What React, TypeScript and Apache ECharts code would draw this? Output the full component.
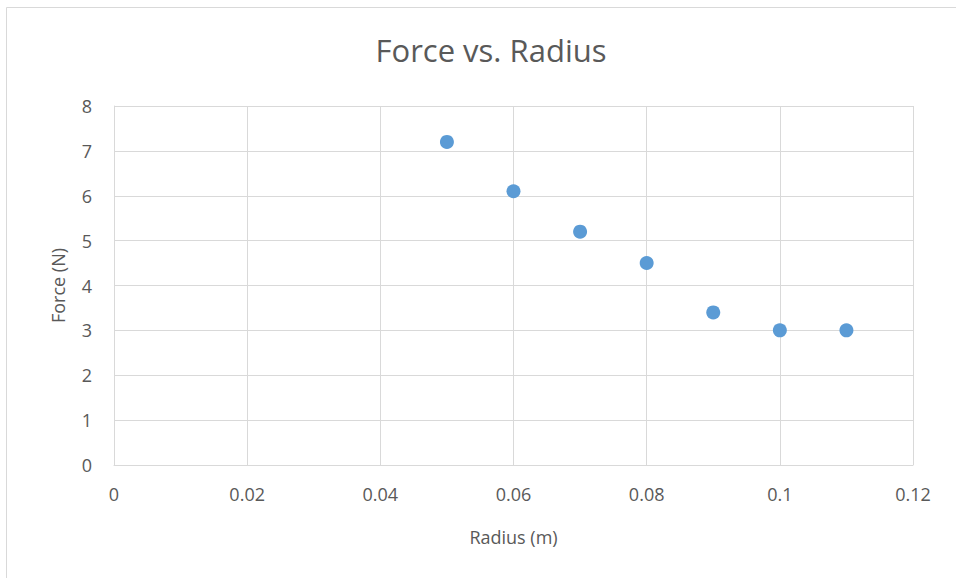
import React, { useEffect, useRef } from "react";
import * as echarts from "echarts";

const radius = [0.05, 0.06, 0.07, 0.08, 0.09, 0.1, 0.11];
const force = [7.2, 6.1, 5.2, 4.5, 3.4, 3.0, 3.0];
const titleText = "Force vs. Radius";
const xName = "Radius (m)";
const yName = "Force (N)";

export default function App() {
  const ref = useRef<HTMLDivElement>(null);
  useEffect(() => {
    if (!ref.current) return;
    const chart = echarts.init(ref.current, null, { renderer: "svg" });
    const font = "'Open Sans', 'Noto Sans', sans-serif";
    const grey = "#595959";
    const line = "#d9d9d9";
    chart.setOption({
      animation: false,
      backgroundColor: "#ffffff",
      title: {
        text: titleText,
        left: 486,
        top: 29,
        textAlign: "center",
        textStyle: { fontFamily: font, fontSize: 31, fontWeight: "normal", color: grey },
      },
      graphic: [
        {
          type: "rect",
          shape: { x: 6.5, y: 7.5, width: 1000, height: 1000 },
          style: { fill: "none", stroke: line, lineWidth: 1 },
          silent: true,
        },
      ],
      grid: { left: 114, right: 43, top: 106, bottom: 113 },
      xAxis: {
        type: "value",
        min: 0,
        max: 0.12,
        interval: 0.02,
        name: xName,
        nameLocation: "middle",
        nameGap: 63,
        nameTextStyle: { fontFamily: font, fontSize: 18, color: grey },
        axisLine: { show: true, lineStyle: { color: line } },
        axisTick: { show: false },
        axisLabel: {
          fontFamily: font,
          fontSize: 18,
          color: grey,
          margin: 20,
          formatter: (v: number) => String(parseFloat(v.toFixed(2))),
        },
        splitLine: { show: true, lineStyle: { color: line } },
      },
      yAxis: {
        type: "value",
        min: 0,
        max: 8,
        interval: 1,
        name: yName,
        nameLocation: "middle",
        nameGap: 47,
        nameTextStyle: { fontFamily: font, fontSize: 18, color: grey },
        axisLine: { show: true, lineStyle: { color: line } },
        axisTick: { show: false },
        axisLabel: { fontFamily: font, fontSize: 18, color: grey, margin: 22 },
        splitLine: { show: true, lineStyle: { color: line } },
      },
      series: [
        {
          type: "scatter",
          data: radius.map((r, i) => [r, force[i]]),
          symbol: "circle",
          symbolSize: 14,
          itemStyle: { color: "#5B9BD5", opacity: 1 },
        },
      ],
    });
    return () => chart.dispose();
  }, []);
  return (
    <div
      ref={ref}
      style={{ position: "absolute", left: 0, top: 0, width: 956, height: 578 }}
    />
  );
}
